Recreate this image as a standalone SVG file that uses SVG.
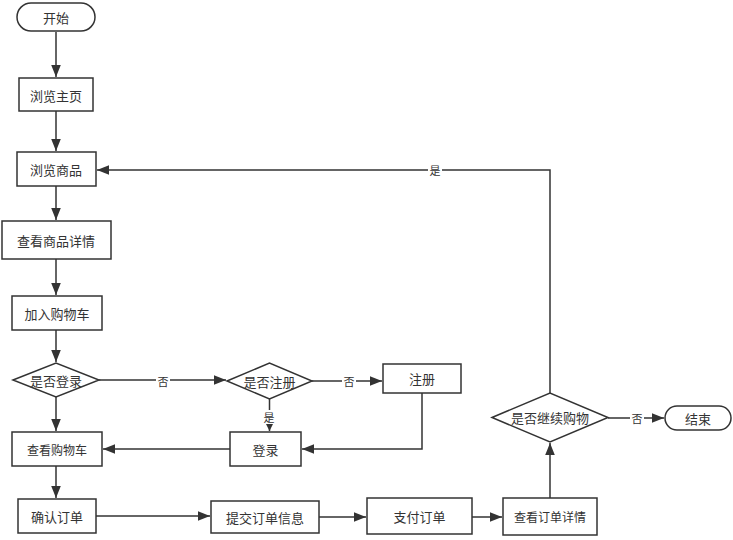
<svg xmlns="http://www.w3.org/2000/svg" width="733" height="540" viewBox="0 0 733 540">
<style>
.n{fill:#fff;stroke:#333;stroke-width:1.5}
.t{font-family:"Noto Sans CJK SC","Liberation Sans",sans-serif;font-size:13px;fill:#333;text-anchor:middle;dominant-baseline:central}
.s{font-size:12px}
.e{fill:none;stroke:#333;stroke-width:1.5}
.l{font-family:"Noto Sans CJK SC","Liberation Sans",sans-serif;font-size:11px;fill:#333;text-anchor:middle;dominant-baseline:central}
.lb{fill:#fff}
</style>
<defs>
<marker id="a" viewBox="0 0 10 10" refX="10" refY="5" markerWidth="7" markerHeight="7" markerUnits="userSpaceOnUse" orient="auto"><path d="M0,0L10,5L0,10Z" fill="#333"/></marker>
<marker id="b" viewBox="0 0 10 10" refX="10" refY="5" markerWidth="12" markerHeight="12" markerUnits="userSpaceOnUse" orient="auto"><path d="M0,1L10,5L0,9Z" fill="#333"/></marker>
</defs>
<rect width="733" height="540" fill="#fff"/>
<g id="edges">
<path class="e" d="M56,32V77" marker-end="url(#b)"/>
<path class="e" d="M56,111V151" marker-end="url(#b)"/>
<path class="e" d="M56,186V220" marker-end="url(#b)"/>
<path class="e" d="M56,259V295" marker-end="url(#b)"/>
<path class="e" d="M56,330V362" marker-end="url(#b)"/>
<path class="e" d="M56,397V431" marker-end="url(#b)"/>
<path class="e" d="M56,466V498" marker-end="url(#b)"/>
<path class="e" d="M99,380H226" marker-end="url(#b)"/>
<path class="e" d="M312,381H382" marker-end="url(#b)"/>
<path class="e" d="M269.5,399V431" marker-end="url(#a)"/>
<path class="e" d="M422,393V449H302" marker-end="url(#b)"/>
<path class="e" d="M230,449H103" marker-end="url(#b)"/>
<path class="e" d="M96,516H210" marker-end="url(#b)"/>
<path class="e" d="M319,517H366" marker-end="url(#b)"/>
<path class="e" d="M472,517H502" marker-end="url(#b)"/>
<path class="e" d="M550,498V443" marker-end="url(#b)"/>
<path class="e" d="M608,418H664" marker-end="url(#b)"/>
<path class="e" d="M550,393V170H97" marker-end="url(#b)"/>
<rect class="lb" x="156" y="374" width="14" height="14"/><text class="l" x="163" y="381">否</text>
<rect class="lb" x="342" y="374" width="14" height="14"/><text class="l" x="349" y="381">否</text>
<rect class="lb" x="262" y="410" width="14" height="14"/><text class="l" x="269" y="417">是</text>
<rect class="lb" x="630" y="411" width="14" height="14"/><text class="l" x="637" y="418">否</text>
<rect class="lb" x="428" y="163" width="14" height="14"/><text class="l" x="435" y="170">是</text>
</g>
<g id="start"><rect class="n" x="17" y="3" width="78" height="28" rx="14"/><text class="t" x="56" y="17">开始</text></g>
<g id="home"><rect class="n" x="19" y="78" width="74" height="33"/><text class="t" x="56" y="95">浏览主页</text></g>
<g id="browse"><rect class="n" x="17" y="152" width="79" height="34"/><text class="t" x="56" y="169">浏览商品</text></g>
<g id="detail"><rect class="n" x="2" y="221" width="109" height="38"/><text class="t" x="56" y="240">查看商品详情</text></g>
<g id="addcart"><rect class="n" x="12" y="296" width="90" height="34"/><text class="t" x="57" y="313">加入购物车</text></g>
<g id="islogin"><path class="n" d="M13,380L56,363L99,380L56,397Z"/><text class="t" x="56" y="380">是否登录</text></g>
<g id="isreg"><path class="n" d="M227,381L269.5,363L312,381L269.5,399Z"/><text class="t" x="269.5" y="381">是否注册</text></g>
<g id="reg"><rect class="n" x="383" y="364" width="78" height="29"/><text class="t" x="422" y="378.5">注册</text></g>
<g id="login"><rect class="n" x="230" y="432" width="71" height="34"/><text class="t" x="265.5" y="449">登录</text></g>
<g id="viewcart"><rect class="n" x="12" y="432" width="90" height="34"/><text class="t s" x="57" y="449">查看购物车</text></g>
<g id="confirm"><rect class="n" x="18" y="499" width="78" height="34"/><text class="t" x="57" y="516">确认订单</text></g>
<g id="submit"><rect class="n" x="211" y="501" width="108" height="32"/><text class="t" x="265" y="517">提交订单信息</text></g>
<g id="pay"><rect class="n" x="367" y="498" width="105" height="36"/><text class="t" x="419.5" y="516">支付订单</text></g>
<g id="orderdetail"><rect class="n" x="503" y="498" width="94" height="37"/><text class="t s" x="550" y="516.5">查看订单详情</text></g>
<g id="continue"><path class="n" d="M492,417.5L550,393L608,417.5L550,442Z"/><text class="t" x="550" y="417.5">是否继续购物</text></g>
<g id="end"><rect class="n" x="665" y="406" width="66" height="24" rx="12"/><text class="t" x="698" y="418">结束</text></g>
</svg>
